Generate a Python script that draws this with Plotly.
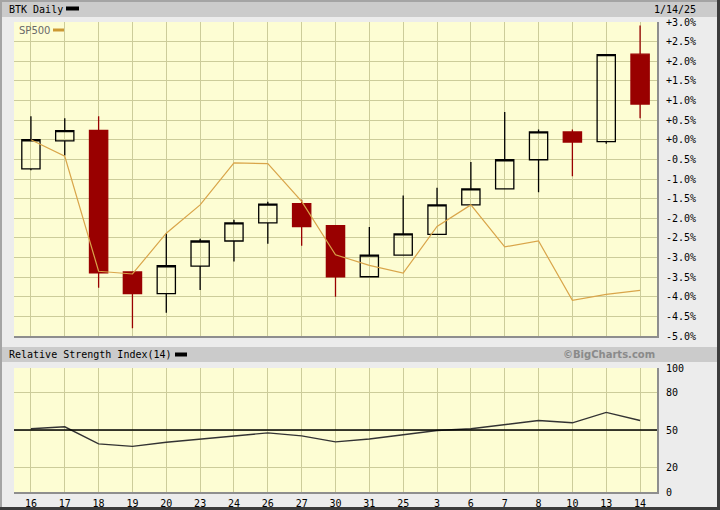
import plotly.graph_objects as go

# ---------------- data ----------------
dates = ["16", "17", "18", "19", "20", "23", "24", "26", "27", "30",
         "31", "25", "3", "6", "7", "8", "10", "13", "14"]
btk_open = [-0.74, -0.03, 0.24, -3.37, -3.92, -3.22, -2.58, -2.12, -1.63, -2.19,
            -3.49, -2.94, -2.41, -1.66, -1.25, -0.51, 0.20, -0.05, 2.18]
btk_high = [0.60, 0.55, 0.60, -3.37, -2.38, -2.52, -2.04, -1.58, -1.53, -2.19,
            -2.22, -1.42, -1.22, -0.57, 0.71, 0.26, 0.26, 2.17, 2.91]
btk_low = [-0.78, -0.40, -3.77, -4.80, -4.41, -3.83, -3.10, -2.65, -2.70, -4.00,
           -3.49, -2.94, -2.41, -1.68, -1.25, -1.34, -0.93, -0.10, 0.55]
btk_close = [0.00, 0.23, -3.39, -3.92, -3.21, -2.58, -2.12, -1.64, -2.21, -3.49,
             -2.94, -2.40, -1.66, -1.25, -0.51, 0.20, -0.06, 2.17, 0.91]
sp500 = [0.00, -0.42, -3.35, -3.42, -2.38, -1.66, -0.59, -0.61, -1.57, -2.93,
         -3.20, -3.40, -2.21, -1.66, -2.73, -2.58, -4.09, -3.94, -3.84]
rsi = [51.0, 52.6, 38.8, 36.8, 40.1, 42.8, 45.3, 47.7, 45.3, 40.4,
       42.8, 46.3, 49.6, 51.0, 54.2, 57.7, 55.8, 64.2, 57.7]

pct_tickvals = [3.0, 2.5, 2.0, 1.5, 1.0, 0.5, 0.0, -0.5, -1.0, -1.5, -2.0,
                -2.5, -3.0, -3.5, -4.0, -4.5, -5.0]
pct_ticktext = ["+3.0%", "+2.5%", "+2.0%", "+1.5%", "+1.0%", "+0.5%", "+0.0%",
                "-0.5%", "-1.0%", "-1.5%", "-2.0%", "-2.5%", "-3.0%", "-3.5%",
                "-4.0%", "-4.5%", "-5.0%"]
rsi_tickvals = [100, 80, 50, 20, 0]
rsi_ticktext = ["100", "80", "50", "20", "0"]

# ---------------- styling / geometry ----------------
W, H = 720, 510
ML, MR, MT, MB = 14, 63, 22, 18
PW, PH = W - ML - MR, H - MT - MB


def px_x(p):
    return (p - ML) / PW


def px_y(p):
    return (H - MB - p) / PH


MONO = "DejaVu Sans Mono"
PLOT_BG = "#fdfdd3"
GRID = "#cccc9a"
AXLINE = "#8e8e8e"
RED = "#990000"
GOLD = "#d9a54a"

fig = go.Figure()

fig.add_trace(go.Candlestick(
    x=dates, open=btk_open, high=btk_high, low=btk_low, close=btk_close,
    increasing=dict(line=dict(color="black", width=1.3), fillcolor="rgba(0,0,0,0)"),
    decreasing=dict(line=dict(color=RED, width=1.3), fillcolor=RED),
    whiskerwidth=0, xaxis="x", yaxis="y", showlegend=False, hoverinfo="skip",
))
fig.add_trace(go.Scatter(
    x=dates, y=sp500, mode="lines", line=dict(color=GOLD, width=1.2),
    xaxis="x", yaxis="y", showlegend=False, hoverinfo="skip",
))
fig.add_trace(go.Scatter(
    x=dates, y=rsi, mode="lines", line=dict(color="#333333", width=1.4),
    xaxis="x2", yaxis="y2", showlegend=False, hoverinfo="skip",
))

main_bottom = px_y(336)
rsi_top = px_y(368)

axis_common = dict(showgrid=True, gridcolor=GRID, gridwidth=1, zeroline=False,
                   ticks="", fixedrange=True, automargin=False)

fig.update_layout(
    width=W, height=H, autosize=False,
    margin=dict(l=ML, r=MR, t=MT, b=MB, pad=0, autoexpand=False),
    paper_bgcolor="#ececec",
    plot_bgcolor=PLOT_BG,
    boxgap=0.23,
    font=dict(family=MONO, size=10, color="black"),
    xaxis=dict(domain=[0, 1], anchor="y", type="category", categoryorder="array",
               categoryarray=dates, range=[-0.5, len(dates) - 0.5],
               showticklabels=False, showline=True, linecolor=AXLINE, linewidth=2,
               rangeslider=dict(visible=False), **axis_common),
    yaxis=dict(domain=[main_bottom, 1], anchor="x", side="right", range=[-5.0, 3.0],
               tickvals=pct_tickvals, ticktext=pct_ticktext, ticklabelstandoff=5,
               showline=True, linecolor=AXLINE, linewidth=2,
               tickfont=dict(family=MONO, size=10, color="black"), **axis_common),
    xaxis2=dict(domain=[0, 1], anchor="y2", type="category", categoryorder="array",
                categoryarray=dates, range=[-0.5, len(dates) - 0.5],
                showticklabels=True, showline=True, linecolor=AXLINE, linewidth=2,
                ticklabelstandoff=1,
                tickfont=dict(family=MONO, size=10, color="black"), **axis_common),
    yaxis2=dict(domain=[0, rsi_top], anchor="x2", side="right", range=[0, 100],
                tickvals=rsi_tickvals, ticktext=rsi_ticktext, ticklabelstandoff=5,
                showline=True, linecolor=AXLINE, linewidth=2,
                tickfont=dict(family=MONO, size=10, color="black"), **axis_common),
)


def prect(x0, x1, y0, y1, color, layer="below"):
    return dict(type="rect", xref="paper", yref="paper", layer=layer,
                x0=px_x(x0), x1=px_x(x1), y0=px_y(y1), y1=px_y(y0),
                line=dict(width=0), fillcolor=color)


shapes = [
    prect(0, 720, 0, 2, "#a4a4a4"),
    prect(0, 2, 0, 510, "#a4a4a4"),
    prect(717, 720, 0, 510, "#3c3c3c"),
    prect(0, 720, 507, 510, "#3c3c3c"),
    prect(2, 717, 2, 17, "#cbcbcb"),
    prect(2, 717, 347, 362, "#cbcbcb"),
    prect(66, 79, 6.5, 10.5, "black", "above"),
    prect(175, 187, 352.5, 356.5, "black", "above"),
    prect(53, 64, 28.5, 31.5, "#cc9933", "above"),
    dict(type="line", xref="x2 domain", yref="y2", x0=0, x1=1, y0=50, y1=50,
         line=dict(color="black", width=1.3)),
]
fig.update_layout(shapes=shapes)

annotations = [
    dict(text="BTK Daily", x=px_x(7), y=px_y(9.5), xref="paper", yref="paper",
         xanchor="left", yanchor="middle", showarrow=False,
         font=dict(family=MONO, size=10, color="black")),
    dict(text="1/14/25", x=px_x(698), y=px_y(9.5), xref="paper", yref="paper",
         xanchor="right", yanchor="middle", showarrow=False,
         font=dict(family=MONO, size=10, color="black")),
    dict(text="Relative Strength Index(14)", x=px_x(7), y=px_y(354.5),
         xref="paper", yref="paper", xanchor="left", yanchor="middle",
         showarrow=False, font=dict(family=MONO, size=10, color="black")),
    dict(text="<b>©BigCharts.com</b>", x=px_x(657), y=px_y(354.5),
         xref="paper", yref="paper", xanchor="right", yanchor="middle",
         showarrow=False, font=dict(family="DejaVu Sans", size=10, color="#8a8a8a")),
    dict(text="SP500", x=px_x(17), y=px_y(30), xref="paper", yref="paper",
         xanchor="left", yanchor="middle", showarrow=False,
         font=dict(family="DejaVu Sans", size=10, color="#6a6a6a")),
]
fig.update_layout(annotations=annotations)

POST = """
(function(){
  var d = document.documentElement, b = document.body;
  [d, b].forEach(function(e){
    e.style.margin = '0'; e.style.padding = '0';
    e.style.overflow = 'hidden';
    e.style.width = '720px'; e.style.height = '510px';
  });
})();
"""

fig.write_html("out.html",
               config={"displayModeBar": False, "responsive": False,
                       "staticPlot": True},
               post_script=POST)
